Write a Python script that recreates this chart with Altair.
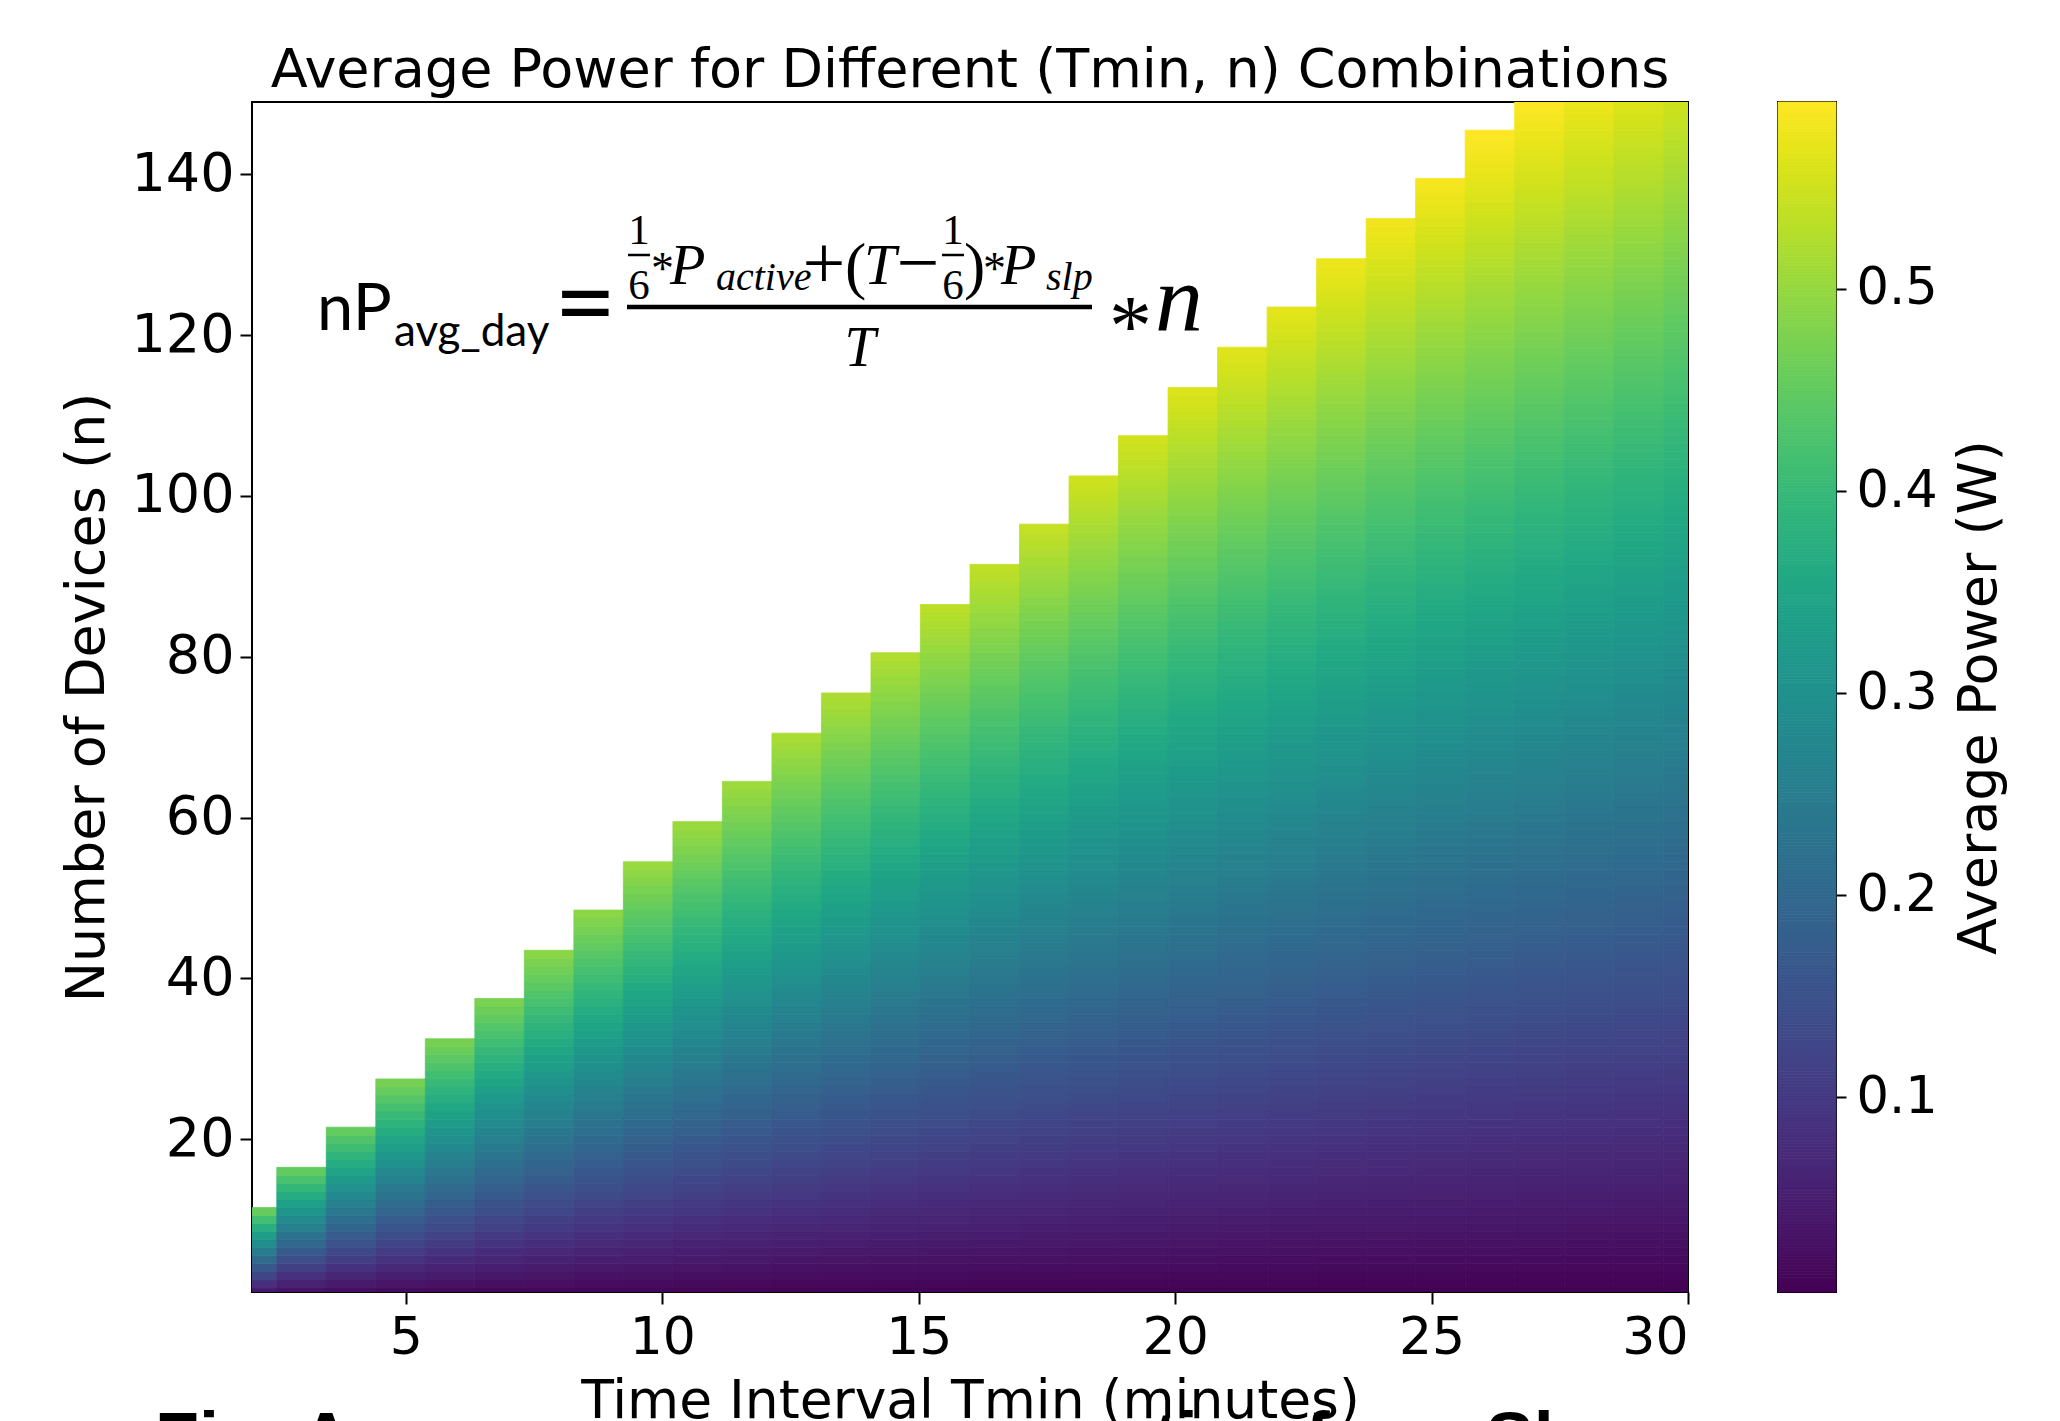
import altair as alt
import numpy as np
import pandas as pd

# ---- data ----
T_VALUES = [2.0, 2.966, 3.931, 4.897, 5.862, 6.828, 7.793, 8.759, 9.724, 10.690,
            11.655, 12.621, 13.586, 14.552, 15.517, 16.483, 17.448, 18.414, 19.379, 20.345,
            21.310, 22.276, 23.241, 24.207, 25.172, 26.138, 27.103, 28.069, 29.034, 30.0]
N_MAX = [11, 16, 21, 27, 32, 37, 43, 48, 54, 59, 64, 70, 75, 80, 86, 91, 96, 102, 107, 113,
         118, 123, 129, 134, 139, 145, 149, 149, 149, 149]
P_ACTIVE = 0.485   # W
P_SLP = 0.001      # W
X_TICKS = [5, 10, 15, 20, 25, 30]
Y_TICKS = [20, 40, 60, 80, 100, 120, 140]
CB_TICKS = [0.1, 0.2, 0.3, 0.4, 0.5]
HALF_W = 14 / 29

rows = []
for T, nmax in zip(T_VALUES, N_MAX):
    for n in range(1, nmax + 1):
        p = (P_ACTIVE / 6 + (T - 1 / 6) * P_SLP) / T * n
        rows.append({"x0": T - HALF_W, "x1": T + HALF_W, "y0": n - 0.5, "y1": n + 0.5, "power": p})
df = pd.DataFrame(rows)
vmin, vmax = float(df.power.min()), float(df.power.max())

cscale = alt.Scale(scheme="viridis", domain=[vmin, vmax], nice=False, zero=False)

W, H = 1436, 1190
FS = 54

heat = alt.Chart(df).mark_rect(clip=True, strokeWidth=0.8).encode(
    x=alt.X("x0:Q", scale=alt.Scale(domain=[2, 30], nice=False, zero=False),
            axis=alt.Axis(values=X_TICKS, title="Time Interval Tmin (minutes)",
                          labelFontSize=52, titleFontSize=53.5,
                          labelPadding=8, titlePadding=12)),
    x2="x1:Q",
    y=alt.Y("y0:Q", scale=alt.Scale(domain=[1, 149], nice=False, zero=False),
            axis=alt.Axis(values=Y_TICKS, title="Number of Devices (n)",
                          labelPadding=6, titlePadding=16)),
    y2="y1:Q",
    color=alt.Color("power:Q", scale=cscale, legend=None),
    stroke=alt.Stroke("power:Q", scale=cscale, legend=None),
)

OX, OY = 252, 101  # plot origin in page pixels


def txt(s, x, y, size, font="Liberation Serif", style="normal", align="left", weight="normal"):
    return alt.Chart(pd.DataFrame({"t": [s]})).mark_text(
        align=align, baseline="alphabetic", font=font, fontSize=size,
        fontStyle=style, fontWeight=weight, color="black"
    ).encode(text="t:N", x=alt.value(x - OX), y=alt.value(y - OY))


def bar(x1, x2, y, w):
    return alt.Chart(pd.DataFrame({"a": [0]})).mark_rule(color="black", strokeWidth=w).encode(
        x=alt.value(x1 - OX), x2=alt.value(x2 - OX), y=alt.value(y - OY))


NB = 283  # numerator baseline
formula = [
    txt("nP", 317, 329, 65, font="Lato"),
    txt("avg_day", 394, 345, 44, font="Lato"),
    txt("=", 554, 339, 108, font="Lato"),
    bar(627, 1092, 306, 4.5),
    # first 1/6
    txt("1", 639, 243, 43, align="center"),
    bar(628, 650, 254, 2.5),
    txt("6", 639, 298, 43, align="center"),
    txt("*", 651, NB, 46),
    txt("P", 670, NB, 58, style="italic"),
    txt("active", 716, NB + 6, 40, style="italic"),
    txt("+", 824, NB + 4, 76, align="center"),
    txt("(", 845, NB + 3, 64),
    txt("T", 864, NB, 58, style="italic"),
    txt("\u2212", 918, NB + 4, 76, align="center"),
    # second 1/6
    txt("1", 953, 243, 43, align="center"),
    bar(942, 964, 254, 2.5),
    txt("6", 953, 298, 43, align="center"),
    txt(")", 964, NB + 3, 64),
    txt("*", 983, NB, 46),
    txt("P", 1001, NB, 58, style="italic"),
    txt("slp", 1046, NB + 6, 40, style="italic"),
    # denominator
    txt("T", 860, 365, 56, style="italic", align="center"),
    txt("*", 1109, 354, 86),
    txt("n", 1155, 330, 96, style="italic"),
]

caption = txt("Fig. Average power consumption from Sl", 155, 1462, 72,
              font="Liberation Sans", weight="bold")

heat_layer = alt.layer(heat, *formula, caption).properties(
    width=W, height=H,
    title=alt.TitleParams("Average Power for Different (Tmin, n) Combinations",
                          fontSize=FS, fontWeight="normal", font="DejaVu Sans",
                          color="black", offset=4, anchor="middle"),
)

cb_edges = np.linspace(vmin, vmax, 401)
cb_df = pd.DataFrame({"v0": cb_edges[:-1], "v1": cb_edges[1:],
                      "v": (cb_edges[:-1] + cb_edges[1:]) / 2})
cbar = alt.Chart(cb_df).mark_rect(strokeWidth=0.8).encode(
    x=alt.value(0), x2=alt.value(58),
    y=alt.Y("v0:Q", scale=alt.Scale(domain=[vmin, vmax], nice=False, zero=False),
            axis=alt.Axis(orient="right", values=CB_TICKS, format=".1f",
                          title="Average Power (W)", titleAngle=270, titleBaseline="top",
                          labelFontSize=51, labelPadding=10, titlePadding=15, tickSize=10)),
    y2="v1:Q",
    color=alt.Color("v:Q", scale=cscale, legend=None),
    stroke=alt.Stroke("v:Q", scale=cscale, legend=None),
).properties(width=58, height=H)

chart = alt.hconcat(heat_layer, cbar, spacing=90, bounds="flush").properties(
    padding={"left": 51, "top": 35, "right": 10, "bottom": 0}
).configure(font="DejaVu Sans").configure_view(
    stroke="black", strokeWidth=2
).configure_axis(
    grid=False, domain=False, tickColor="black", tickWidth=2, tickSize=12,
    labelFont="DejaVu Sans", labelFontSize=FS, labelColor="black",
    titleFont="DejaVu Sans", titleFontSize=FS, titleFontWeight="normal", titleColor="black",
)

chart.save("out.html", embed_options={"renderer": "svg", "actions": False})
